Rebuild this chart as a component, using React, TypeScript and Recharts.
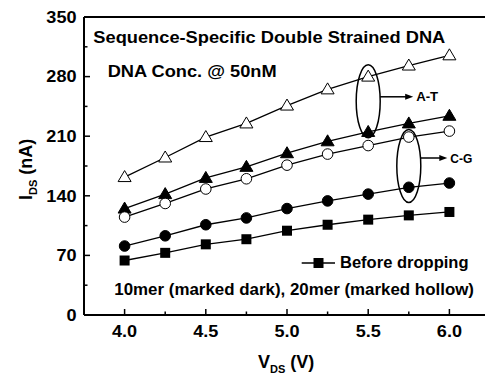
import { LineChart, Line, XAxis, YAxis, ReferenceLine, ReferenceDot } from "recharts"

// V_DS sweep (V)
const vds = [4.0, 4.25, 4.5, 4.75, 5.0, 5.25, 5.5, 5.75, 6.0]
// I_DS (nA)
const at20mer = [162, 185, 209, 225, 246, 265, 280, 293, 305]
const at10mer = [125, 142, 161, 174, 190, 204, 215, 225, 234]
const cg20mer = [115, 131, 148, 160, 176, 189, 199, 209, 216]
const cg10mer = [81, 93, 106, 114, 125, 134, 142, 150, 155]
const beforeDropping = [64, 73, 83, 89, 99, 106, 112, 117, 121]

const xTicks = [4.0, 4.25, 4.5, 4.75, 5.0, 5.25, 5.5, 5.75, 6.0]
const xMajor = [4.0, 4.5, 5.0, 5.5, 6.0]
const yTicks = [0, 35, 70, 105, 140, 175, 210, 245, 280, 315, 350]
const yMajor = [0, 70, 140, 210, 280, 350]

const data = vds.map((v, i) => ({
  v,
  at20: at20mer[i],
  at10: at10mer[i],
  cg20: cg20mer[i],
  cg10: cg10mer[i],
  before: beforeDropping[i],
}))

const FONT = "'Liberation Sans', Arial, Helvetica, sans-serif"

function Txt({ x, y, size, width, children }: any) {
  return (
    <text
      x={x}
      y={y}
      fontFamily={FONT}
      fontWeight="bold"
      fontSize={size}
      fill="#000"
      textLength={width}
      lengthAdjust="spacingAndGlyphs"
    >
      {children}
    </text>
  )
}

function YTick({ x, y, payload }: any) {
  const major = yMajor.includes(payload.value)
  return (
    <g>
      <line x1={x} x2={x + (major ? 6 : 3.5)} y1={y} y2={y} stroke="#000" strokeWidth={1.5} />
      {major && (
        <text
          transform={`translate(${x - 7.5},${y + 5.7}) scale(1.13,1)`}
          textAnchor="end"
          fontFamily={FONT}
          fontWeight="bold"
          fontSize={16}
          fill="#000"
        >
          {payload.value}
        </text>
      )}
    </g>
  )
}

function XTick({ x, y, payload }: any) {
  const major = xMajor.includes(payload.value)
  return (
    <g>
      <line x1={x} x2={x} y1={y} y2={y - (major ? 6 : 3.5)} stroke="#000" strokeWidth={1.5} />
      {major && (
        <text
          transform={`translate(${x},${y + 21.5}) scale(1.13,1)`}
          textAnchor="middle"
          fontFamily={FONT}
          fontWeight="bold"
          fontSize={16}
          fill="#000"
        >
          {payload.value.toFixed(1)}
        </text>
      )}
    </g>
  )
}

const triangle = (fill: string) => (p: any) => (
  <polygon
    key={p.index}
    points={`${p.cx},${p.cy - 6.5} ${p.cx - 6.5},${p.cy + 4.5} ${p.cx + 6.5},${p.cy + 4.5}`}
    fill={fill}
    stroke="#000"
    strokeWidth={1}
  />
)

const circle = (fill: string) => (p: any) => (
  <circle key={p.index} cx={p.cx} cy={p.cy} r={5.3} fill={fill} stroke="#000" strokeWidth={1} />
)

const square = (p: any) => (
  <rect key={p.index} x={p.cx - 5} y={p.cy - 5} width={10} height={10} fill="#000" />
)

// ellipse around a group + arrow pointing to its label
function Group({ cx, cy, label, dy, tip }: any) {
  const ay = cy + dy
  return (
    <g>
      <ellipse cx={cx} cy={cy} rx={12} ry={36.5} fill="none" stroke="#000" strokeWidth={1.5} />
      <line x1={cx + 12} y1={ay} x2={cx + tip - 6} y2={ay} stroke="#000" strokeWidth={1.5} />
      <polygon points={`${cx + tip},${ay} ${cx + tip - 8},${ay - 3} ${cx + tip - 8},${ay + 3}`} fill="#000" />
      <text
        x={cx + tip + 3}
        y={ay + 4.5}
        fontFamily={FONT}
        fontWeight="bold"
        fontSize={13}
        fill="#000"
        textLength={22}
        lengthAdjust="spacingAndGlyphs"
      >
        {label}
      </text>
    </g>
  )
}

export default function App() {
  return (
    <div
      style={{
        position: "absolute",
        left: 0,
        top: 0,
        width: 485,
        height: 376,
        overflow: "hidden",
        background: "#fff",
      }}
    >
      <div style={{ position: "relative", width: 490, height: 376 }}>
        <LineChart width={490} height={376} data={data} margin={{ top: 17, right: 0, bottom: 0, left: 0 }}>
          <XAxis
            dataKey="v"
            type="number"
            domain={[3.75, 6.25]}
            ticks={xTicks}
            interval={0}
            height={61}
            tickSize={0}
            tickMargin={0}
            tickLine={false}
            tick={<XTick />}
            axisLine={{ stroke: "#000", strokeWidth: 2 }}
          />
          <YAxis
            type="number"
            domain={[0, 350]}
            ticks={yTicks}
            interval={0}
            width={84}
            tickSize={0}
            tickMargin={0}
            tickLine={false}
            tick={<YTick />}
            axisLine={{ stroke: "#000", strokeWidth: 2 }}
          />
          <ReferenceLine y={350} stroke="#000" strokeWidth={2} />
          <Line dataKey="before" stroke="#000" strokeWidth={1.3} dot={square} isAnimationActive={false} />
          <Line dataKey="cg10" stroke="#000" strokeWidth={1.3} dot={circle("#000")} isAnimationActive={false} />
          <Line dataKey="at10" stroke="#000" strokeWidth={1.3} dot={triangle("#000")} isAnimationActive={false} />
          <Line dataKey="cg20" stroke="#000" strokeWidth={1.3} dot={circle("#fff")} isAnimationActive={false} />
          <Line dataKey="at20" stroke="#000" strokeWidth={1.3} dot={triangle("#fff")} isAnimationActive={false} />
          <ReferenceDot
            x={5.5}
            y={251}
            ifOverflow="visible"
            shape={(p: any) => <Group cx={p.cx} cy={p.cy} label="A-T" dy={-4.5} tip={45} />}
          />
          <ReferenceDot
            x={5.75}
            y={175}
            ifOverflow="visible"
            shape={(p: any) => <Group cx={p.cx} cy={p.cy} label="C-G" dy={-8} tip={38.5} />}
          />
        </LineChart>
        <svg
          width={490}
          height={376}
          style={{ position: "absolute", left: 0, top: 0, pointerEvents: "none" }}
        >
          <Txt x={93.3} y={42.7} size={16} width={352}>
            Sequence-Specific Double Strained DNA
          </Txt>
          <Txt x={107.7} y={76.7} size={16} width={169}>
            DNA Conc. @ 50nM
          </Txt>
          <line x1={301.7} x2={335} y1={263} y2={263} stroke="#000" strokeWidth={1.5} />
          <rect x={313.5} y={258} width={10} height={10} fill="#000" />
          <Txt x={340} y={268.3} size={16} width={128.5}>
            Before dropping
          </Txt>
          <Txt x={114.3} y={294.5} size={16} width={359.7}>
            10mer (marked dark), 20mer (marked hollow)
          </Txt>
          <text x={258} y={368.3} fontFamily={FONT} fontWeight="bold" fontSize={18} fill="#000">
            V
            <tspan fontSize={11} dy={5}>DS</tspan>
            <tspan dy={-5}> (V)</tspan>
          </text>
          <text
            transform="translate(31.5,200) rotate(-90)"
            fontFamily={FONT}
            fontWeight="bold"
            fontSize={18}
            fill="#000"
          >
            I
            <tspan fontSize={11} dy={5}>DS</tspan>
            <tspan dy={-5}> (nA)</tspan>
          </text>
        </svg>
      </div>
    </div>
  )
}
